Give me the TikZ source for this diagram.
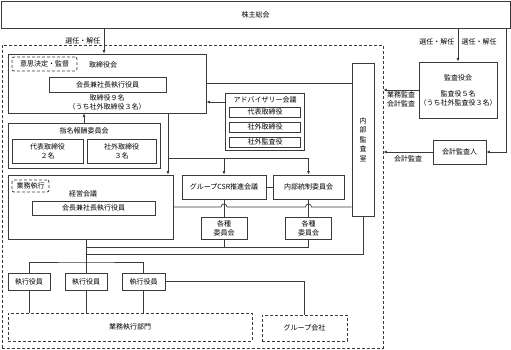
\documentclass[tikz,border=0pt]{standalone}
\usepackage{fontspec}
\setmainfont{Noto Sans CJK JP}
\usepackage{tikz}
\usetikzlibrary{arrows.meta,calc}
\definecolor{edge}{HTML}{3A3A3A}

\begin{document}
\begin{tikzpicture}[x=1pt,y=-1pt,
    font=\fontsize{7}{9}\selectfont,
    box/.style={draw=edge, line width=0.8pt, inner sep=0pt, align=center},
    dbox/.style={box, dash pattern=on 3pt off 2pt},
    tag/.style={dbox, rounded corners=2pt},
    wire/.style={draw=edge, line width=0.7pt},
    arr/.style={wire, -{Latex[length=3.5pt,width=3pt]}}]
  \useasboundingbox (0,0) rectangle (511,350);
  \node[dbox, minimum width=381pt, minimum height=303pt] (org) at (192.5,196.5) {};
  \node[box, minimum width=509pt, minimum height=27pt] (sh) at (255.5,14.5) {株主総会};

  \node[box, minimum width=198pt, minimum height=59pt] (bod) at (107,83.5) {};
  \node[tag, minimum width=65pt, minimum height=14pt] (tagD) at (44.5,64) {意思決定・監督};
  \node (bodT) at (103,65) {取締役会};
  \node[box, minimum width=117pt, minimum height=15pt] (chairB) at (107.5,84.5) {会長兼社長執行役員};
  \node[align=center] (bodN) at (107,102.5) {取締役９名\\（うち社外取締役３名）};

  \node[box, minimum width=152pt, minimum height=45pt] (nom) at (84,145.5) {};
  \node (nomT) at (84,131) {指名報酬委員会};
  \node[box, minimum width=71pt, minimum height=24pt] (rep) at (47.5,151) {代表取締役\\２名};
  \node[box, minimum width=69pt, minimum height=24pt] (outd) at (121.5,151) {社外取締役\\３名};

  \node[box, minimum width=79pt, minimum height=57pt] (adv) at (265,121.5) {};
  \node (advT) at (265,99.5) {アドバイザリー会議};
  \node[box, minimum width=71pt, minimum height=10pt] (adv1) at (265,112) {代表取締役};
  \node[box, minimum width=71pt, minimum height=10pt] (adv2) at (265,127) {社外取締役};
  \node[box, minimum width=71pt, minimum height=10pt] (adv3) at (265,142) {社外監査役};

  \node[box, minimum width=22pt, minimum height=153pt, font=\fontsize{7}{9.5}\selectfont] (ia) at (363,139.5) {内\\部\\監\\査\\室};
  \node[box, minimum width=78pt, minimum height=56pt] (kac) at (458,90) {監査役会\\[7pt]監査役５名\\（うち社外監査役３名）};
  \node[box, minimum width=53pt, minimum height=24pt] (aud) at (459.5,152) {会計監査人};

  \node[box, minimum width=165pt, minimum height=64pt] (mgmt) at (90.5,207) {};
  \node[tag, minimum width=37pt, minimum height=12pt] (tagE) at (30.5,186) {業務執行};
  \node (mgmtT) at (83,194) {経営会議};
  \node[box, minimum width=123pt, minimum height=14pt] (chairM) at (93.5,208) {会長兼社長執行役員};

  \node[box, minimum width=84pt, minimum height=24pt] (csr) at (224,187) {グループCSR推進会議};
  \node[box, minimum width=71pt, minimum height=24pt] (ic) at (308.5,187) {内部統制委員会};
  \node[box, minimum width=46pt, minimum height=22pt] (com1) at (224,228) {各種\\委員会};
  \node[box, minimum width=46pt, minimum height=22pt] (com2) at (308.5,228) {各種\\委員会};

  \node[box, minimum width=42pt, minimum height=17pt] (eo1) at (29,281.5) {執行役員};
  \node[box, minimum width=42pt, minimum height=17pt] (eo2) at (86,281.5) {執行役員};
  \node[box, minimum width=43pt, minimum height=17pt] (eo3) at (143.5,281.5) {執行役員};
  \node[dbox, minimum width=244pt, minimum height=28pt] (ops) at (130,327) {業務執行部門};
  \node[dbox, minimum width=85pt, minimum height=26pt] (grp) at (304.5,328) {グループ会社};

  \coordinate (xa) at (104,0);
  \coordinate (xc) at (168,0);
  \coordinate (br) at (168,158);
  \coordinate (xr) at (506,0);
  \coordinate (k1) at (86,247);
  \coordinate (k2) at (86,254);
  \coordinate (jn) at (86,262);
  \coordinate (advOut) at ($(adv.west)+(0,-19.5)$);

  \draw[arr] (sh.south -| xa) -- (bod.north -| xa) node[midway, left] (selB) {選任・解任};
  \draw[arr] (sh.south -| kac.north) -- (kac.north)
    node[pos=0.4, left] (selK) {選任・解任} node[pos=0.4, right] (selA) {選任・解任};
  \draw[arr] (sh.south -| xr) |- (aud.east);
  \draw[arr] (advOut) -- (advOut -| bod.east);
  \draw[wire] (bod.east) -- (bod.east -| ia.west);
  \draw[arr] (nom.north) -- (nom.north |- bod.south);
  \draw[arr] (bod.south -| xc) -- (mgmt.north -| xc);
  \draw[arr] (br) -| (csr.north);
  \draw[arr] (br) -| (ic.north);
  \draw[wire] (csr) -- (ic);
  \draw[wire] (csr) -- (com1);
  \draw[wire] (ic) -- (com2);
  \draw[wire] (mgmt.east) -- ($(mgmt.east -| csr.south)+(-3,0)$) arc[start angle=180, end angle=0, radius=3pt]
    -- ($(mgmt.east -| ic.south)+(-3,0)$) arc[start angle=180, end angle=0, radius=3pt]
    -- (mgmt.east -| ia.west);
  \draw[wire] (eo2.north |- mgmt.south) -- (jn);
  \draw[wire] (eo1.north) |- (jn) -| (eo3.north);
  \draw[wire] (jn) -- (eo2.north);
  \draw[wire] (k1) -| (com1.south);
  \draw[wire] (k1) -| (com2.south);
  \draw[wire] (k2) -| (ia.south);
  \draw[wire] (eo3.east) -| (grp.north);
  \foreach \e in {eo1,eo2,eo3}
    \draw[wire] (\e.south) -- (\e.south |- ops.north);
  \draw[arr] (kac.west) -- (kac.west -| org.east)
    node[midway, below=1pt, align=center, inner sep=0pt] (lblA) {業務監査\\会計監査};
  \draw[arr] (aud.west) -- (aud.west -| org.east) node[midway, below] (lblB) {会計監査};
\end{tikzpicture}
\end{document}
